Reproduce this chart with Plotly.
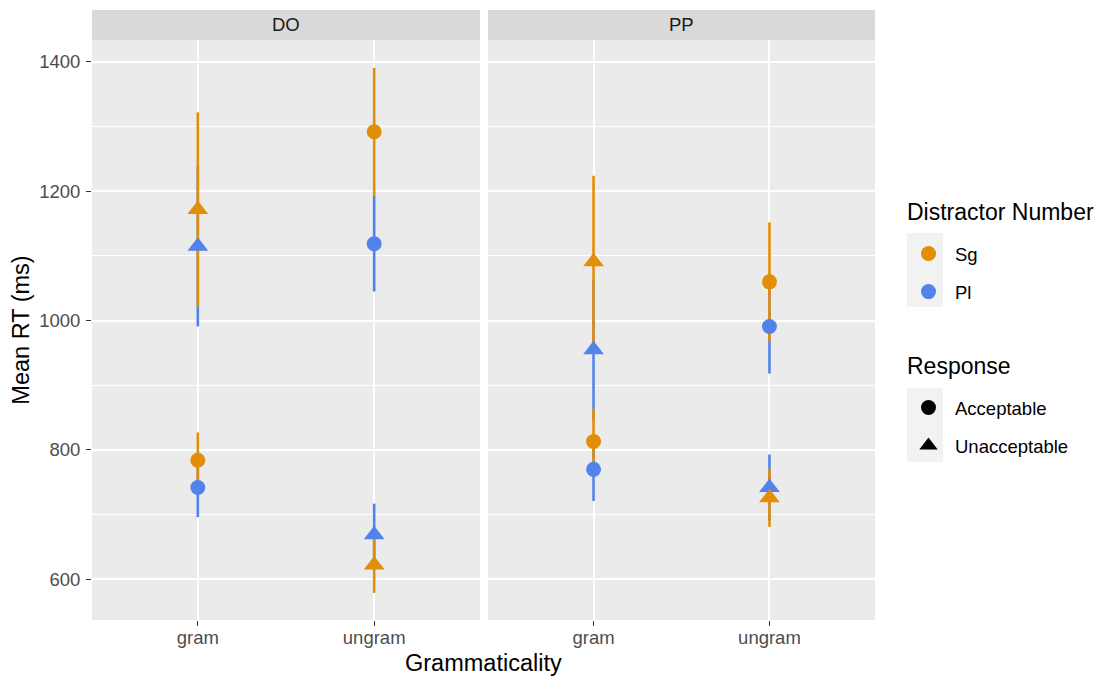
import plotly.graph_objects as go

# ---- data ----
facets = ["DO", "PP"]
grammaticality = ["gram", "ungram"]
numbers = ["Sg", "Pl"]
responses = ["Acceptable", "Unacceptable"]

# mean RT per facet / number / response, ordered by grammaticality [gram, ungram]
mean_rt = {
    ("DO", "Sg", "Acceptable"): [784, 1292],
    ("DO", "Pl", "Acceptable"): [742, 1119],
    ("DO", "Sg", "Unacceptable"): [1172, 622],
    ("DO", "Pl", "Unacceptable"): [1115, 669],
    ("PP", "Sg", "Acceptable"): [813, 1060],
    ("PP", "Pl", "Acceptable"): [770, 991],
    ("PP", "Sg", "Unacceptable"): [1091, 726],
    ("PP", "Pl", "Unacceptable"): [955, 742],
}
# half-width of error bars
err_rt = {
    ("DO", "Sg", "Acceptable"): [43, 99],
    ("DO", "Pl", "Acceptable"): [46, 74],
    ("DO", "Sg", "Unacceptable"): [150, 43],
    ("DO", "Pl", "Unacceptable"): [124, 48],
    ("PP", "Sg", "Acceptable"): [51, 92],
    ("PP", "Pl", "Acceptable"): [49, 73],
    ("PP", "Sg", "Unacceptable"): [133, 45],
    ("PP", "Pl", "Unacceptable"): [109, 51],
}
y_ticks = [600, 800, 1000, 1200, 1400]

colors = {"Sg": "#E28E08", "Pl": "#5383EA"}
symbols = {"Acceptable": "circle", "Unacceptable": "triangle-up"}
sizes = {"Acceptable": 15, "Unacceptable": 18}

FONT = "Liberation Sans, Arial, Helvetica"
TICK_SIZE = 18.5
TITLE_SIZE = 23.5
LEG_TITLE_SIZE = 23

fig = go.Figure()

# page offset (body margin) and plot geometry in page pixels
OFF = 8
W, H = 1104 - OFF, 677 - OFF
L, R, T, B = 92 - OFF, 875 - OFF, 40 - OFF, 620 - OFF
pw = R - L
ph = B - T


def px_x(x):  # page x -> paper
    return (x - OFF - L) / pw


def px_y(y):  # page y -> paper
    return (B - (y - OFF)) / ph


dom1 = [0, px_x(480)]
dom2 = [px_x(488), 1]

for fi, f in enumerate(facets):
    xa = "x" if fi == 0 else "x2"
    ya = "y" if fi == 0 else "y2"
    # error bars first (Pl then Sg)
    for n in ["Pl", "Sg"]:
        xs, ys, es = [], [], []
        for r in responses:
            xs += grammaticality
            ys += mean_rt[(f, n, r)]
            es += err_rt[(f, n, r)]
        fig.add_trace(go.Scatter(
            x=xs, y=ys, mode="markers", xaxis=xa, yaxis=ya,
            marker=dict(size=2, opacity=0, color=colors[n]),
            error_y=dict(type="data", array=es, visible=True, width=0,
                         thickness=2.6, color=colors[n]),
            showlegend=False, hoverinfo="skip"))
    # points (Pl then Sg)
    for n in ["Pl", "Sg"]:
        xs, ys, syms, szs = [], [], [], []
        for r in responses:
            xs += grammaticality
            ys += mean_rt[(f, n, r)]
            syms += [symbols[r]] * 2
            szs += [sizes[r]] * 2
        fig.add_trace(go.Scatter(
            x=xs, y=ys, mode="markers", xaxis=xa, yaxis=ya,
            marker=dict(size=szs, symbol=syms, color=colors[n], opacity=1,
                        line=dict(width=0)),
            showlegend=False))

# legend entries
for n in numbers:
    fig.add_trace(go.Scatter(
        x=[None], y=[None], mode="markers", name=n, legend="legend",
        legendgroup=n,
        marker=dict(size=15, symbol="circle", color=colors[n], opacity=1)))
for r in responses:
    fig.add_trace(go.Scatter(
        x=[None], y=[None], mode="markers", name=r, legend="legend2",
        legendgroup=r,
        marker=dict(size=15 if r == "Acceptable" else 18,
                    symbol=symbols[r], color="black", opacity=1)))

axis_common = dict(
    showgrid=True, gridcolor="white", gridwidth=2,
    tickcolor="#333333", tickwidth=1.2,
    tickfont=dict(family=FONT, size=TICK_SIZE, color="#4D4D4D"),
    zeroline=False, showline=False,
)
minor = dict(dtick=100, tick0=0, showgrid=True, gridcolor="white", gridwidth=1)
fig.update_layout(
    xaxis=dict(domain=dom1, type="category", categoryarray=grammaticality,
               range=[-0.6, 1.6], anchor="y", ticks="outside", ticklen=5,
               ticklabelstandoff=-4, **axis_common),
    xaxis2=dict(domain=dom2, type="category", categoryarray=grammaticality,
                range=[-0.6, 1.6], anchor="y2", ticks="outside", ticklen=5,
                ticklabelstandoff=-4, **axis_common),
    yaxis=dict(range=[537, 1434], tickvals=y_ticks, anchor="x",
               ticks="outside", ticklen=5, minor=minor, ticklabelstandoff=2,
               title=dict(text="Mean RT (ms)",
                          font=dict(family=FONT, size=TITLE_SIZE, color="black"),
                          standoff=4),
               **axis_common),
    yaxis2=dict(range=[537, 1434], tickvals=y_ticks, anchor="x2",
                matches="y", showticklabels=False, ticks="", minor=minor,
                **axis_common),
)

leg_common = dict(
    font=dict(family=FONT, size=TICK_SIZE, color="black"),
    x=px_x(902), xanchor="left", yanchor="top",
    bgcolor="rgba(0,0,0,0)", tracegroupgap=11, itemwidth=43,
)
fig.update_layout(
    width=W, height=H,
    margin=dict(l=L, r=W - R, t=T, b=H - B, pad=0),
    paper_bgcolor="white", plot_bgcolor="#EBEBEB",
    font=dict(family=FONT, color="black"),
    legend=dict(y=px_y(235), **leg_common),
    legend2=dict(y=px_y(389), **leg_common),
)

# legend titles
for text, ypg in [("Distractor Number", 212), ("Response", 366)]:
    fig.add_annotation(text=text, xref="paper", yref="paper",
                       x=px_x(905), y=px_y(ypg), showarrow=False,
                       xanchor="left", yanchor="middle",
                       font=dict(family=FONT, size=LEG_TITLE_SIZE, color="black"))

# legend key backgrounds
for y0, y1 in [(233, 307), (388, 462)]:
    fig.add_shape(type="rect", xref="paper", yref="paper",
                  x0=px_x(907), x1=px_x(943),
                  y0=px_y(y1), y1=px_y(y0),
                  fillcolor="#F2F2F2", line=dict(width=0), layer="below")

# facet strips
strip_h = 30 / ph
for d, f in zip([dom1, dom2], facets):
    fig.add_shape(type="rect", xref="paper", yref="paper",
                  x0=d[0], x1=d[1], y0=1, y1=1 + strip_h,
                  fillcolor="#D9D9D9", line=dict(width=0))
    fig.add_annotation(text=f, xref="paper", yref="paper",
                       x=(d[0] + d[1]) / 2, y=1 + strip_h / 2,
                       showarrow=False, xanchor="center", yanchor="middle",
                       font=dict(family=FONT, size=TICK_SIZE, color="#1A1A1A"))

# x-axis title spanning both panels
fig.add_annotation(text="Grammaticality", xref="paper", yref="paper",
                   x=0.5, y=px_y(663), showarrow=False,
                   xanchor="center", yanchor="middle",
                   font=dict(family=FONT, size=TITLE_SIZE, color="black"))

fig.write_html("out.html")
